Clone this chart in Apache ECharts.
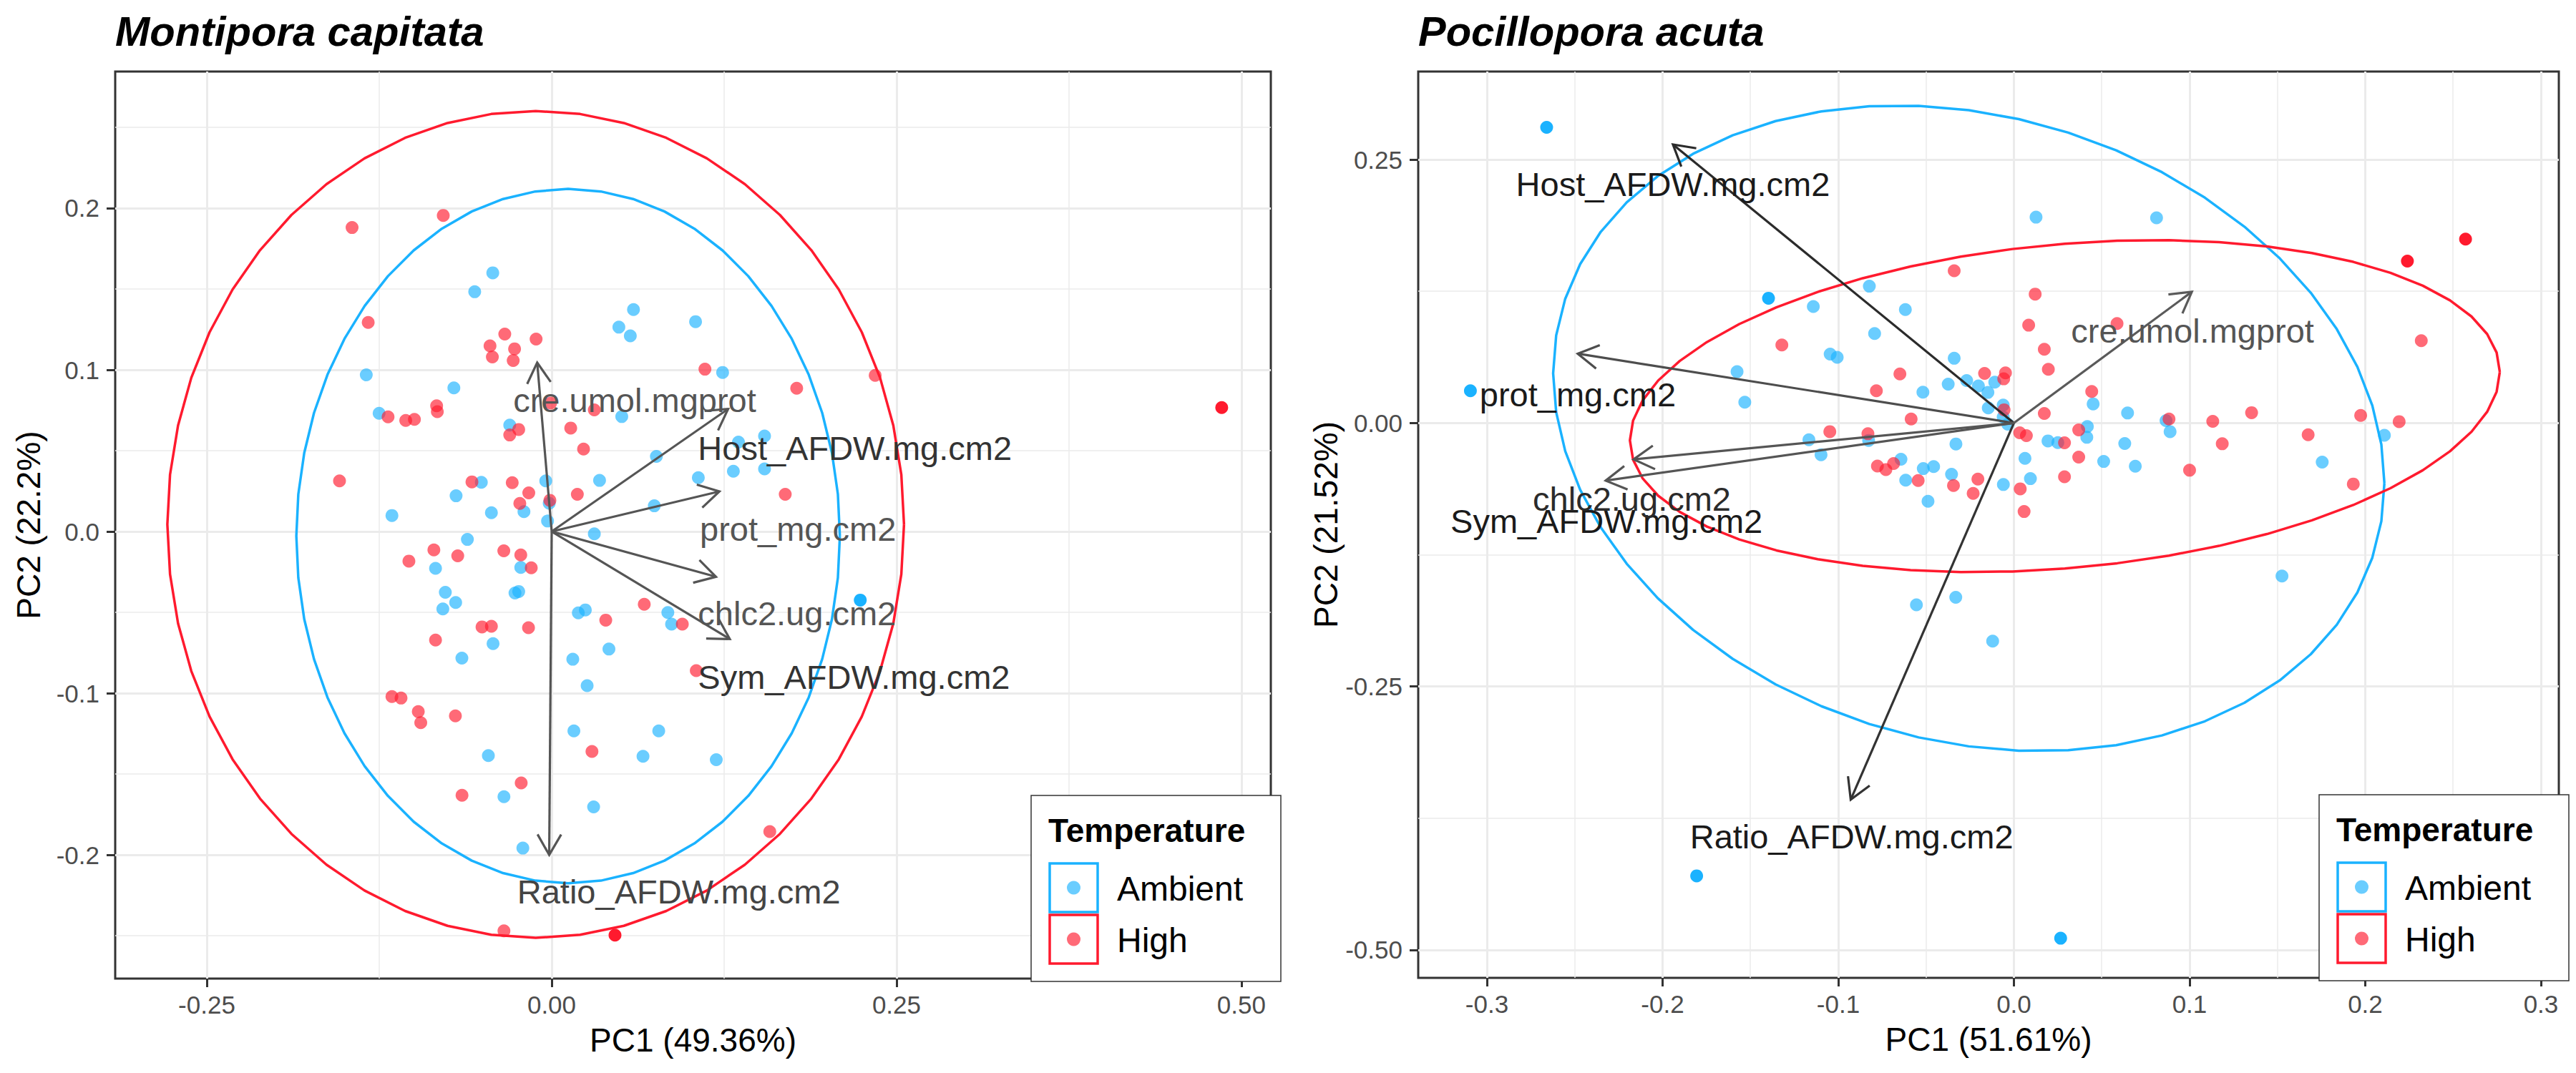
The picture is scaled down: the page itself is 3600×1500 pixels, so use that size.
<!DOCTYPE html>
<html>
<head>
<meta charset="utf-8">
<script src="https://cdn.jsdelivr.net/npm/echarts@6/dist/echarts.min.js"></script>
<style>
html,body{margin:0;padding:0;background:#fff;}
#chart{width:3600px;height:1500px;}
</style>
</head>
<body>
<div id="chart"></div>
<script>
// ---------------- DATA ----------------
const groups = ['Ambient', 'High'];
const legendTitle = 'Temperature';
const panelTitles = ['Montipora capitata', 'Pocillopora acuta'];
const xTitles = ['PC1 (49.36%)', 'PC1 (51.61%)'];
const yTitles = ['PC2 (22.2%)', 'PC2 (21.52%)'];

// Montipora capitata tick values
const mcXTicks = [-0.25, 0, 0.25, 0.5];
const mcXMinor = [-0.125, 0.125, 0.375];
const mcYTicks = [-0.2, -0.1, 0, 0.1, 0.2];
const mcYMinor = [-0.25, -0.15, -0.05, 0.05, 0.15, 0.25];
// Pocillopora acuta tick values
const paXTicks = [-0.3, -0.2, -0.1, 0, 0.1, 0.2, 0.3];
const paXMinor = [-0.25, -0.15, -0.05, 0.05, 0.15, 0.25];
const paYTicks = [-0.5, -0.25, 0, 0.25];
const paYMinor = [-0.375, -0.125, 0.125];

// Montipora capitata scores
const mcAmbient = [[-0.0427,0.1600],[-0.0558,0.1483],[0.0593,0.1373],[0.0487,0.1264],[0.0570,0.1210],[0.1043,0.1298],[0.1239,0.0984],[-0.1344,0.0969],[-0.0709,0.0888],[-0.1251,0.0731],[-0.0304,0.0658],[0.0508,0.0711],[0.1543,0.0591],[0.1354,0.0553],[0.0759,0.0465],[0.1317,0.0373],[0.1543,0.0387],[0.1063,0.0333],[0.0347,0.0316],[-0.0510,0.0304],[-0.0043,0.0313],[-0.0693,0.0221],[-0.0018,0.0175],[-0.0437,0.0116],[-0.0201,0.0123],[-0.1158,0.0099],[-0.0030,0.0065],[0.0744,0.0159],[0.0309,-0.0014],[-0.0611,-0.0049],[-0.0842,-0.0228],[-0.0224,-0.0222],[-0.0771,-0.0376],[-0.0696,-0.0439],[-0.0789,-0.0479],[-0.0266,-0.0380],[-0.0239,-0.0371],[0.0193,-0.0503],[0.0244,-0.0485],[0.0842,-0.0501],[0.0869,-0.0573],[-0.0425,-0.0693],[0.0415,-0.0727],[-0.0651,-0.0783],[0.0153,-0.0790],[0.0161,-0.1233],[0.0776,-0.1233],[0.0257,-0.0953],[-0.0459,-0.1386],[0.0662,-0.1390],[0.1193,-0.1411],[-0.0346,-0.1640],[0.0304,-0.1703],[-0.0209,-0.1958]];
const mcAmbientSolid = [[0.2237,-0.0424]];
const mcHigh = [[-0.1447,0.1880],[-0.0786,0.1955],[-0.1330,0.1293],[-0.0340,0.1221],[-0.0113,0.1190],[-0.0447,0.1148],[-0.0269,0.1130],[-0.0430,0.1080],[-0.0279,0.1058],[0.1111,0.1004],[0.1776,0.0886],[-0.0008,0.0794],[0.0309,0.0752],[-0.0834,0.0778],[-0.0829,0.0741],[-0.1186,0.0709],[-0.1058,0.0687],[-0.0995,0.0694],[-0.0239,0.0631],[-0.0304,0.0597],[0.0138,0.0640],[0.0231,0.0510],[-0.1538,0.0313],[-0.0578,0.0307],[-0.0286,0.0302],[-0.0166,0.0239],[-0.0013,0.0193],[-0.0231,0.0174],[0.0186,0.0230],[0.1693,0.0230],[-0.0854,-0.0114],[-0.1035,-0.0183],[-0.0681,-0.0150],[-0.0347,-0.0119],[-0.0224,-0.0145],[-0.0148,-0.0224],[0.0671,-0.0450],[0.0392,-0.0548],[0.0947,-0.0573],[-0.0505,-0.0590],[-0.0437,-0.0586],[-0.0168,-0.0595],[-0.0842,-0.0671],[0.1048,-0.0860],[0.2345,0.0966],[-0.1158,-0.1021],[-0.1092,-0.1030],[-0.0967,-0.1114],[-0.0949,-0.1182],[-0.0698,-0.1140],[0.0292,-0.1360],[-0.0221,-0.1555],[-0.0650,-0.1631],[0.1581,-0.1856],[-0.0346,-0.2470]];
const mcHighSolid = [[0.4857,0.0767],[0.0459,-0.2496]];

// Pocillopora acuta scores
const paAmbient = [[-0.0823,0.1298],[-0.1142,0.1105],[-0.0618,0.1076],[-0.0793,0.0849],[-0.1046,0.0654],[-0.1006,0.0623],[-0.1576,0.0487],[-0.0340,0.0614],[-0.0374,0.0369],[-0.0269,0.0403],[-0.0202,0.0351],[-0.0109,0.0387],[-0.0148,0.0290],[-0.0518,0.0292],[-0.1532,0.0197],[-0.0146,0.0143],[-0.0061,0.0170],[-0.0061,0.0057],[-0.0035,-0.0011],[0.0451,0.0181],[0.0647,0.0095],[0.0866,0.0023],[0.0889,-0.0082],[0.0418,-0.0034],[0.0415,-0.0136],[0.0194,-0.0170],[0.0250,-0.0186],[0.0631,-0.0195],[-0.1167,-0.0159],[-0.0827,-0.0165],[-0.1098,-0.0301],[-0.0330,-0.0199],[-0.0643,-0.0344],[-0.0516,-0.0433],[-0.0457,-0.0414],[-0.0355,-0.0487],[-0.0616,-0.0543],[0.0063,-0.0335],[0.0094,-0.0528],[-0.0060,-0.0584],[0.0511,-0.0365],[0.0691,-0.0410],[-0.0489,-0.0743],[0.0126,0.1953],[0.0812,0.1947],[0.2109,-0.0117],[0.1755,-0.0371],[0.1526,-0.1452],[-0.0555,-0.1725],[-0.0331,-0.1654],[-0.0121,-0.2070]];
const paAmbientSolid = [[-0.2660,0.2806],[-0.3094,0.0306],[-0.1806,-0.4297],[0.0266,-0.4889],[-0.1397,0.1184]];
const paHigh = [[-0.0340,0.1445],[0.0121,0.1223],[0.0084,0.0928],[0.0587,0.0944],[-0.1321,0.0740],[0.0173,0.0700],[0.0196,0.0510],[-0.0649,0.0466],[-0.0167,0.0471],[-0.0048,0.0476],[-0.0058,0.0419],[-0.0783,0.0306],[0.0443,0.0299],[-0.0056,0.0125],[0.0173,0.0091],[-0.0585,0.0038],[0.0883,0.0038],[0.1132,0.0016],[-0.1048,-0.0082],[-0.0831,-0.0102],[0.0033,-0.0093],[0.0071,-0.0120],[0.0369,-0.0066],[0.0288,-0.0188],[0.1186,-0.0197],[-0.0777,-0.0408],[-0.0729,-0.0442],[-0.0685,-0.0385],[0.0369,-0.0324],[0.1000,-0.0448],[-0.0545,-0.0546],[-0.0344,-0.0593],[-0.0205,-0.0532],[-0.0232,-0.0668],[0.0036,-0.0625],[0.0288,-0.0510],[0.0058,-0.0840],[0.2319,0.0781],[0.1974,0.0072],[0.2193,0.0013],[0.1675,-0.0111],[0.1932,-0.0579],[0.1353,0.0098]];
const paHighSolid = [[0.2240,0.1536],[0.2571,0.1745]];

// Loadings (variable names, arrow tips, label anchor positions)
const variables = ['Host_AFDW.mg.cm2','Sym_AFDW.mg.cm2','Ratio_AFDW.mg.cm2','prot_mg.cm2','cre.umol.mgprot','chlc2.ug.cm2'];
const mcLoadings = [[0.1279,0.0758],[0.1291,-0.0665],[-0.0018,-0.2000],[0.1216,0.0248],[-0.0105,0.1045],[0.1191,-0.0280]];
const mcLabelPos = [[0.1060,0.0515],[0.1060,-0.0900],[-0.0250,-0.2229],[0.1074,0.0015],[-0.0279,0.0810],[0.1060,-0.0508]];
const paLoadings = [[-0.1941,0.2643],[-0.2324,-0.0547],[-0.0929,-0.3574],[-0.2483,0.0658],[0.1013,0.1245],[-0.2165,-0.0345]];
const paLabelPos = [[-0.1941,0.2266],[-0.2319,-0.0931],[-0.0924,-0.3926],[-0.2483,0.0267],[0.1017,0.0872],[-0.2175,-0.0723]];

// 95% ellipses: [centerX, centerY, halfWidth, halfHeight, phaseDeg]
const mcEllipseAmbient = [0.0119, -0.0028, 0.197, 0.2147, 90];
const mcEllipseHigh = [-0.0116, 0.0044, 0.267, 0.2557, 90];
const paEllipseAmbient = [-0.0257, -0.0050, 0.2366, 0.3063, 99.8];
const paEllipseHigh = [0.0290, 0.0160, 0.2476, 0.1575, 78.1];

// ---------------- STYLE ----------------
const FONT = 'Liberation Sans, Arial, Helvetica, sans-serif';
const BLUE = '#1AB2FF', RED = '#FF1A2E';
const PT_ALPHA = 0.65;
const grids = [
  {left:161, top:100, width:1615, height:1268},
  {left:1982, top:100, width:1594, height:1267}
];
const ranges = [
  {x:[-0.3164, 0.5213], y:[-0.2765, 0.2845]},
  {x:[-0.3391, 0.3102], y:[-0.5265, 0.3335]}
];
const arrowColors = [
  ['#555555','#555555','#555555','#555555','#555555','#555555'],
  ['#2b2b2b','#555555','#333333','#4d4d4d','#5a5a5a','#555555']
];
const labelColors = [
  ['#333333','#333333','#444444','#555555','#555555','#555555'],
  ['#1a1a1a','#1a1a1a','#1a1a1a','#1a1a1a','#555555','#2b2b2b']
];
const labelAlign = ['left', 'center'];

function ellipsePoints(p) {
  const pts = [];
  const n = 52;
  const ph = p[4] * Math.PI / 180;
  for (let i = 0; i <= n; i++) {
    const t = 2 * Math.PI * i / n;
    pts.push([p[0] + p[2] * Math.cos(t), p[1] + p[3] * Math.cos(t - ph)]);
  }
  return pts;
}

const chart = echarts.init(document.getElementById('chart'), null, {renderer:'svg', width:3600, height:1500});

const xAxes = [], yAxes = [], series = [];
const tickSets = [
  {xt:mcXTicks, xm:mcXMinor, yt:mcYTicks, ym:mcYMinor, xd:2, yd:1},
  {xt:paXTicks, xm:paXMinor, yt:paYTicks, ym:paYMinor, xd:1, yd:2}
];
[0,1].forEach(function(g){
  const ts = tickSets[g];
  xAxes.push({
    gridIndex:g, type:'value', min:ranges[g].x[0], max:ranges[g].x[1], position:'bottom',
    axisLine:{show:false, onZero:false},
    axisTick:{show:true, length:12, lineStyle:{color:'#333333', width:3}, customValues:ts.xt},
    axisLabel:{show:true, customValues:ts.xt, fontSize:35, color:'#4d4d4d', fontFamily:FONT, margin:19,
      formatter:function(v){return Number(v).toFixed(ts.xd);}},
    splitLine:{show:true, lineStyle:{color:'#EBEBEB', width:3}},
    name:xTitles[g], nameLocation:'middle', nameGap:63,
    nameTextStyle:{fontSize:46, color:'#000', fontFamily:FONT}
  });
  yAxes.push({
    gridIndex:g, type:'value', min:ranges[g].y[0], max:ranges[g].y[1], position:'left',
    axisLine:{show:false, onZero:false},
    axisTick:{show:true, length:12, lineStyle:{color:'#333333', width:3}, customValues:ts.yt},
    axisLabel:{show:true, customValues:ts.yt, fontSize:35, color:'#4d4d4d', fontFamily:FONT, margin:22,
      formatter:function(v){return Number(v).toFixed(ts.yd);}},
    splitLine:{show:true, lineStyle:{color:'#EBEBEB', width:3}},
    name:yTitles[g], nameLocation:'middle', nameGap:98, nameRotate:90,
    nameTextStyle:{fontSize:46, color:'#000', fontFamily:FONT}
  });
});
// minor grid axes
[0,1].forEach(function(g){
  const ts = tickSets[g];
  xAxes.push({
    gridIndex:g, type:'value', min:ranges[g].x[0], max:ranges[g].x[1], position:'top',
    axisLine:{show:false, onZero:false}, axisTick:{show:false, customValues:ts.xm},
    axisLabel:{show:false, customValues:ts.xm},
    splitLine:{show:true, lineStyle:{color:'#EBEBEB', width:1.5}}
  });
  yAxes.push({
    gridIndex:g, type:'value', min:ranges[g].y[0], max:ranges[g].y[1], position:'right',
    axisLine:{show:false, onZero:false}, axisTick:{show:false, customValues:ts.ym},
    axisLabel:{show:false, customValues:ts.ym},
    splitLine:{show:true, lineStyle:{color:'#EBEBEB', width:1.5}}
  });
});

const panelData = [
  {amb:mcAmbient, ambS:mcAmbientSolid, high:mcHigh, highS:mcHighSolid, eA:mcEllipseAmbient, eH:mcEllipseHigh, load:mcLoadings, lab:mcLabelPos},
  {amb:paAmbient, ambS:paAmbientSolid, high:paHigh, highS:paHighSolid, eA:paEllipseAmbient, eH:paEllipseHigh, load:paLoadings, lab:paLabelPos}
];

panelData.forEach(function(pd, g){
  const ax = {xAxisIndex:g, yAxisIndex:g};
  [[pd.eA, BLUE],[pd.eH, RED]].forEach(function(e){
    series.push(Object.assign({
      type:'line', data:ellipsePoints(e[0]), showSymbol:false, symbol:'none', smooth:false,
      lineStyle:{color:e[1], width:3.5}, z:2, silent:true, clip:false
    }, ax));
  });
  [[pd.amb, BLUE, PT_ALPHA],[pd.high, RED, PT_ALPHA],[pd.ambS, BLUE, 1],[pd.highS, RED, 1]].forEach(function(s){
    series.push(Object.assign({
      type:'scatter', data:s[0], symbol:'circle', symbolSize:18,
      itemStyle:{color:s[1], opacity:s[2], borderWidth:0}, z:3, silent:true
    }, ax));
  });
  series.push(Object.assign({
    type:'custom', data:pd.load, z:4, silent:true, clip:false, encode:{x:0, y:1},
    renderItem:function(params, api){
      const o = api.coord([0,0]);
      const p = api.coord([api.value(0), api.value(1)]);
      const c = arrowColors[g][params.dataIndex];
      const ang = Math.atan2(p[1]-o[1], p[0]-o[0]);
      const L = 33, A = Math.PI/6;
      const h1 = [p[0]-L*Math.cos(ang-A), p[1]-L*Math.sin(ang-A)];
      const h2 = [p[0]-L*Math.cos(ang+A), p[1]-L*Math.sin(ang+A)];
      return {type:'group', children:[
        {type:'line', shape:{x1:o[0], y1:o[1], x2:p[0], y2:p[1]}, style:{stroke:c, lineWidth:3.2}},
        {type:'polyline', shape:{points:[h1, p, h2]}, style:{stroke:c, lineWidth:3.2, fill:null}}
      ]};
    }
  }, ax));
  series.push(Object.assign({
    type:'custom', data:pd.lab, z:5, silent:true, clip:false, encode:{x:0, y:1},
    renderItem:function(params, api){
      const p = api.coord([api.value(0), api.value(1)]);
      return {type:'text', x:p[0], y:p[1], style:{
        text:variables[params.dataIndex], fill:labelColors[g][params.dataIndex],
        fontSize:47, fontFamily:FONT, align:labelAlign[g], verticalAlign:'middle'
      }};
    }
  }, ax));
});

// legends (ggplot style, inside bottom-right of each panel)
function legendGraphic(rightEdge, bottomEdge) {
  const w = 349, h = 260;
  const x0 = rightEdge - w, y0 = bottomEdge - h;
  const els = [
    {type:'rect', shape:{x:x0, y:y0, width:w, height:h}, style:{fill:'#fff', stroke:'#333', lineWidth:1.5}, z:100},
    {type:'text', x:x0+24, y:y0+49, style:{text:legendTitle, fontSize:46, fontWeight:'bold', fontFamily:FONT, fill:'#000', align:'left', verticalAlign:'middle'}, z:101}
  ];
  const cols = [BLUE, RED];
  groups.forEach(function(name, i){
    const ky = y0 + 95 + i*72;
    els.push({type:'rect', shape:{x:x0+26, y:ky, width:67, height:68}, style:{fill:'#fff', stroke:cols[i], lineWidth:3.5}, z:101});
    els.push({type:'circle', shape:{cx:x0+59.5, cy:ky+34, r:9.5}, style:{fill:cols[i], opacity:PT_ALPHA}, z:102});
    els.push({type:'text', x:x0+120, y:ky+35, style:{text:name, fontSize:48, fontFamily:FONT, fill:'#000', align:'left', verticalAlign:'middle'}, z:102});
  });
  return els;
}

const option = {
  animation:false,
  backgroundColor:'#ffffff',
  title: panelTitles.map(function(t, g){
    return {text:t, left:grids[g].left, top:14, padding:0,
      textStyle:{fontSize:58, fontWeight:'bold', fontStyle:'italic', color:'#000', fontFamily:FONT}};
  }),
  grid: grids.map(function(gr){
    return Object.assign({show:true, borderColor:'#333333', borderWidth:3, backgroundColor:'transparent', containLabel:false, outerBoundsMode:'none'}, gr);
  }),
  xAxis:xAxes,
  yAxis:yAxes,
  series:series,
  graphic: legendGraphic(1790, 1372).concat(legendGraphic(3590, 1371))
};
chart.setOption(option);
</script>
</body>
</html>
